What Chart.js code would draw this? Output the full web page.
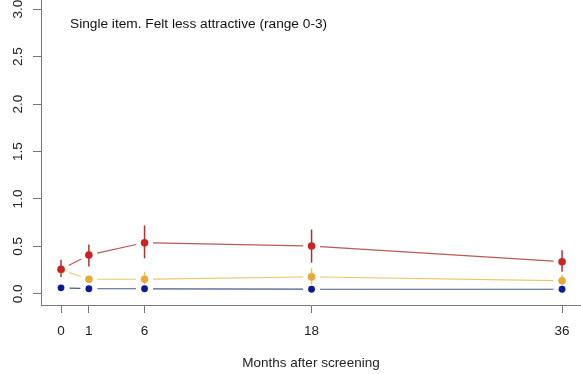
<!DOCTYPE html>
<html><head><meta charset="utf-8">
<script src="https://cdn.jsdelivr.net/npm/chart.js@4/dist/chart.umd.min.js"></script>
<style>html,body{margin:0;padding:0;background:#fff}#wrap{width:581px;height:374px}</style>
</head><body><div id="wrap"><canvas id="c" width="581" height="374"></canvas></div>
<script>
const monthPositions = [0, 2, 6, 18, 36];
const monthLabels = ['0', '1', '6', '18', '36'];
const yTicks = [0, 0.5, 1, 1.5, 2, 2.5, 3];
const redMean = [0.26, 0.41, 0.54, 0.505, 0.34];
const redLow = [0.18, 0.29, 0.375, 0.33, 0.235];
const redHigh = [0.36, 0.52, 0.72, 0.68, 0.46];
const orangeMean = [0.255, 0.155, 0.155, 0.18, 0.14];
const orangeLow = [0.22, 0.12, 0.10, 0.10, 0.09];
const orangeHigh = [0.29, 0.19, 0.235, 0.27, 0.20];
const blueMean = [0.065, 0.055, 0.055, 0.05, 0.05];
const blueLow = [0.05, 0.04, 0.04, 0.035, 0.035];
const blueHigh = [0.08, 0.07, 0.07, 0.065, 0.065];
const titleText = 'Single item. Felt less attractive (range 0-3)';
const xTitle = 'Months after screening';

const FONT = "'Liberation Sans', Arial, sans-serif";
const toPts = arr => arr.map((v, i) => ({x: monthPositions[i], y: v}));

const rPlot = {
  id: 'rplot',
  beforeDatasetsDraw(chart) {
    const ctx = chart.ctx, xs = chart.scales.x, ys = chart.scales.y;
    const gap = 8.5;
    for (let di = chart.data.datasets.length - 1; di >= 0; di--) {
      const ds = chart.data.datasets[di];
      const pts = chart.getDatasetMeta(di).data;
      ctx.save();
      ctx.strokeStyle = ds.lineColor; ctx.lineWidth = 1.2;
      ctx.beginPath();
      for (let i = 0; i < pts.length - 1; i++) {
        const a = pts[i], b = pts[i + 1];
        const dx = b.x - a.x, dy = b.y - a.y, len = Math.hypot(dx, dy);
        if (len <= 2 * gap) continue;
        const ux = dx / len, uy = dy / len;
        ctx.moveTo(a.x + ux * gap, a.y + uy * gap);
        ctx.lineTo(b.x - ux * gap, b.y - uy * gap);
      }
      ctx.stroke();
      ctx.strokeStyle = ds.errColor; ctx.lineWidth = 1.5;
      ctx.beginPath();
      ds.low.forEach((lo, i) => {
        const x = xs.getPixelForValue(monthPositions[i]);
        ctx.moveTo(x, ys.getPixelForValue(lo));
        ctx.lineTo(x, ys.getPixelForValue(ds.high[i]));
      });
      ctx.stroke();
      ctx.restore();
    }
  },
  afterDraw(chart) {
    const ctx = chart.ctx, ys = chart.scales.y;
    ctx.save();
    ctx.font = '13.7px ' + FONT;
    ctx.fillStyle = '#111';
    ctx.textBaseline = 'alphabetic';
    ctx.textAlign = 'left';
    ctx.fillText(titleText, chart.chartArea.left + 29, 28);
    // y tick labels, rotated like R's default
    ctx.font = '13.5px ' + FONT;
    ctx.fillStyle = '#222';
    ctx.textAlign = 'center';
    ctx.textBaseline = 'middle';
    ys.ticks.forEach(t => {
      const y = ys.getPixelForValue(t.value);
      ctx.save();
      ctx.translate(18, y);
      ctx.rotate(-Math.PI / 2);
      ctx.fillText(t.label, 0, 0);
      ctx.restore();
    });
    ctx.restore();
  }
};

new Chart(document.getElementById('c'), {
  type: 'scatter',
  data: {
    datasets: [
      {data: toPts(redMean), low: redLow, high: redHigh, lineColor: '#b85a55', errColor: '#a83434', pointBackgroundColor: '#cc2222', pointRadius: 3.8},
      {data: toPts(orangeMean), low: orangeLow, high: orangeHigh, lineColor: '#f0c46a', errColor: '#eec060', pointBackgroundColor: '#eaa838', pointRadius: 3.8},
      {data: toPts(blueMean), low: blueLow, high: blueHigh, lineColor: '#4a5896', errColor: '#3a4a90', pointBackgroundColor: '#0c1a96', pointRadius: 3.4}
    ].map(d => Object.assign({showLine: false, pointBorderWidth: 0, pointBorderColor: 'rgba(0,0,0,0)', clip: false, pointHoverRadius: d.pointRadius}, d))
  },
  options: {
    responsive: false, animation: false, devicePixelRatio: 1,
    layout: {padding: 0, autoPadding: false},
    plugins: {legend: {display: false}, tooltip: {enabled: false}},
    scales: {
      x: {
        type: 'linear', min: -1.44, max: 37.36,
        afterBuildTicks: s => { s.ticks = monthPositions.map(v => ({value: v})); },
        afterFit: s => { s.height = 69; s.paddingLeft = 0; s.paddingRight = 0; },
        grid: {drawOnChartArea: false, tickLength: 8, color: '#777', lineWidth: 1},
        border: {color: '#777', width: 1},
        ticks: {color: '#222', font: {family: FONT, size: 13.5}, padding: 10, maxRotation: 0, autoSkip: false,
          includeBounds: false,
          callback: v => monthLabels[monthPositions.indexOf(v)]},
        title: {display: true, text: xTitle, color: '#222', font: {family: FONT, size: 13.5}, padding: {top: 0, bottom: 3}}
      },
      y: {
        type: 'linear', min: -0.116, max: 3.095,
        afterBuildTicks: s => { s.ticks = yTicks.map(v => ({value: v})); },
        afterFit: s => { s.width = 41; s.paddingTop = 0; s.paddingBottom = 0; },
        grid: {drawOnChartArea: false, tickLength: 8, color: '#777', lineWidth: 1},
        border: {color: '#777', width: 1},
        ticks: {display: false, includeBounds: false, callback: v => v.toFixed(1)}
      }
    }
  },
  plugins: [rPlot]
});
</script></body></html>
